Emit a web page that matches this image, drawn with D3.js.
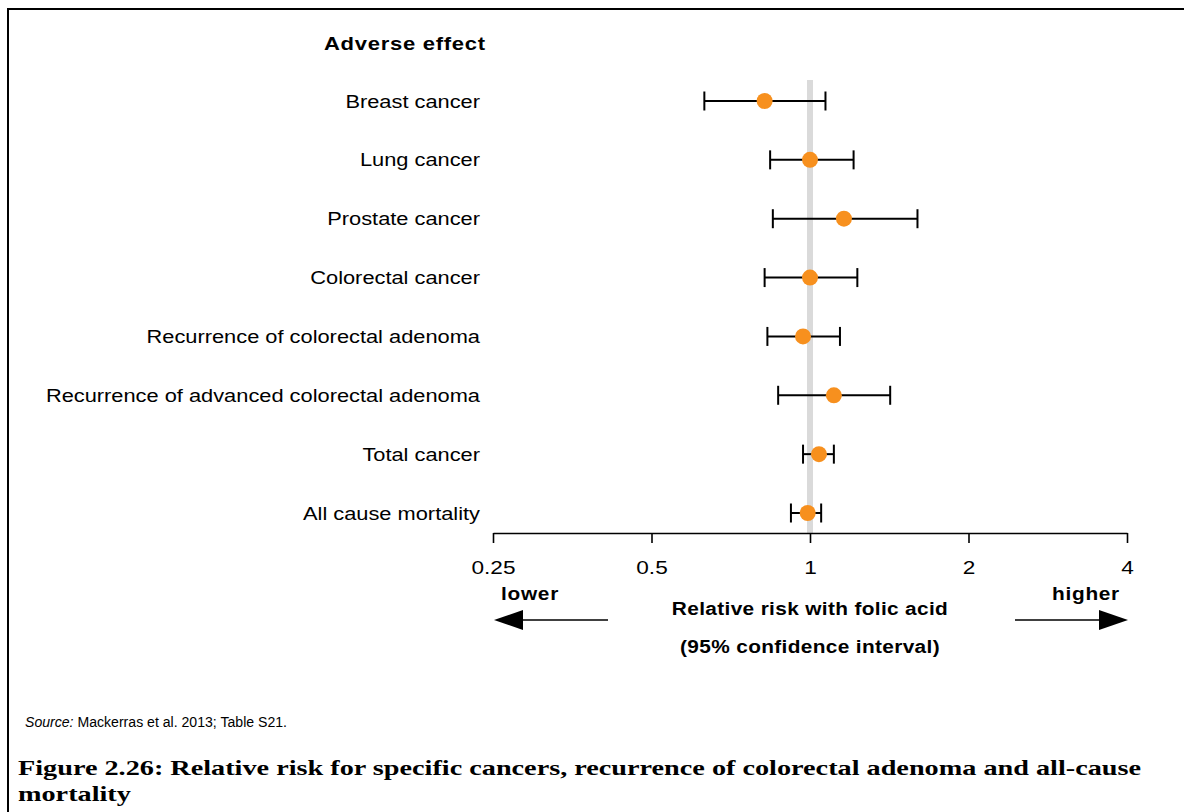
<!DOCTYPE html>
<html>
<head>
<meta charset="utf-8">
<script src="https://cdn.jsdelivr.net/npm/d3@7"></script>
<style>
  html, body { margin: 0; padding: 0; background: #fff; }
  svg { display: block; }
  text { fill: #000; }
</style>
</head>
<body>
<svg id="chart" width="1184" height="812"></svg>
<script>
// ---- data ----
const categories = [
  "Breast cancer",
  "Lung cancer",
  "Prostate cancer",
  "Colorectal cancer",
  "Recurrence of colorectal adenoma",
  "Recurrence of advanced colorectal adenoma",
  "Total cancer",
  "All cause mortality"
];
const estimates = [0.82, 1.00, 1.16, 1.00, 0.97, 1.11, 1.04, 0.99];
const lowerCI   = [0.63, 0.84, 0.85, 0.82, 0.83, 0.87, 0.97, 0.92];
const upperCI   = [1.07, 1.21, 1.60, 1.23, 1.14, 1.42, 1.11, 1.05];
const tickValues = [0.25, 0.5, 1, 2, 4];
const tickLabels = ["0.25", "0.5", "1", "2", "4"];

const SANS = "'Liberation Sans', Arial, sans-serif";
const SERIF = "'Liberation Serif', 'DejaVu Serif', serif";
const STRETCH = 1.19;
const svg = d3.select("#chart");

// frame
svg.append("rect").attr("x", 8).attr("y", 9).attr("width", 1300).attr("height", 1000)
  .attr("fill", "none").attr("stroke", "#000").attr("stroke-width", 2);

const x = d3.scaleLog().base(2).domain([0.25, 4]).range([493, 1127]);
const y = d3.scalePoint().domain(categories).range([101, 513]);
const axisY = 533;

// reference line at RR = 1
svg.append("rect")
  .attr("x", x(1) - 3).attr("width", 6)
  .attr("y", 80).attr("height", axisY - 80)
  .attr("fill", "#dadada");

// axis
const axis = svg.append("g").attr("transform", `translate(0,${axisY})`)
  .call(d3.axisBottom(x).tickValues(tickValues).tickSize(10).tickSizeOuter(0)
    .tickFormat((d, i) => tickLabels[i]));
axis.select(".domain").attr("stroke", "#000").attr("stroke-width", 1.6);
axis.selectAll(".tick line").attr("stroke", "#000").attr("stroke-width", 1.6);
axis.selectAll(".tick text")
  .attr("y", 41).attr("dy", null)
  .attr("font-size", 19).attr("font-family", null)
  .style("font-family", SANS)
  .attr("fill", "#000")
  .attr("transform", `scale(${STRETCH},1)`);

// category labels
const labelX = 480;
svg.append("text")
  .attr("transform", `translate(324,50) scale(${STRETCH},1)`)
  .style("font-family", SANS)
  .attr("font-size", 18.5).attr("font-weight", "bold").attr("letter-spacing", 0.6)
  .text("Adverse effect");

svg.selectAll("text.cat").data(categories).join("text")
  .attr("class", "cat")
  .attr("transform", d => `translate(${labelX},${y(d) + 6.5}) scale(1.18,1)`)
  .attr("text-anchor", "end")
  .style("font-family", SANS)
  .attr("font-size", 18.5)
  .text(d => d);

// error bars
const rows = categories.map((c, i) => ({ c, est: estimates[i], lo: lowerCI[i], hi: upperCI[i] }));
const g = svg.append("g");
g.selectAll("line.ci").data(rows).join("line").attr("class", "ci")
  .attr("x1", d => x(d.lo)).attr("x2", d => x(d.hi))
  .attr("y1", d => y(d.c)).attr("y2", d => y(d.c))
  .attr("stroke", "#000").attr("stroke-width", 2);
g.selectAll("line.capl").data(rows).join("line").attr("class", "capl")
  .attr("x1", d => x(d.lo)).attr("x2", d => x(d.lo))
  .attr("y1", d => y(d.c) - 9.5).attr("y2", d => y(d.c) + 9.5)
  .attr("stroke", "#000").attr("stroke-width", 2);
g.selectAll("line.caph").data(rows).join("line").attr("class", "caph")
  .attr("x1", d => x(d.hi)).attr("x2", d => x(d.hi))
  .attr("y1", d => y(d.c) - 9.5).attr("y2", d => y(d.c) + 9.5)
  .attr("stroke", "#000").attr("stroke-width", 2);
g.selectAll("circle").data(rows).join("circle")
  .attr("cx", d => x(d.est)).attr("cy", d => y(d.c)).attr("r", 8)
  .attr("fill", "#f7901e");

// axis titles
const mid = x(1);
function boldLabel(tx, ty, txt, ls) {
  svg.append("text").attr("transform", `translate(${tx},${ty}) scale(${STRETCH},1)`)
    .attr("text-anchor", "middle").attr("font-size", 17.5).attr("font-weight", "bold")
    .style("font-family", SANS)
    .attr("letter-spacing", ls)
    .text(txt);
}
boldLabel(mid, 615, "Relative risk with folic acid", 0.3);
boldLabel(mid, 653, "(95% confidence interval)", 0.3);
boldLabel(530, 600, "lower", 0.6);
boldLabel(1086, 600, "higher", 0.6);

// arrows
const [x0, x1] = x.range();
const ay = 620;
svg.append("line").attr("x1", x0 + 28).attr("x2", x0 + 115).attr("y1", ay).attr("y2", ay)
  .attr("stroke", "#000").attr("stroke-width", 1.6);
svg.append("path").attr("d", `M${x0 + 1},${ay} L${x0 + 30},${ay - 10} L${x0 + 30},${ay + 10} Z`).attr("fill", "#000");
svg.append("line").attr("x1", x1 - 112).attr("x2", x1 - 25).attr("y1", ay).attr("y2", ay)
  .attr("stroke", "#000").attr("stroke-width", 1.6);
svg.append("path").attr("d", `M${x1 + 1},${ay} L${x1 - 28},${ay - 10} L${x1 - 28},${ay + 10} Z`).attr("fill", "#000");

// source
const src = svg.append("text").attr("x", 25).attr("y", 727).attr("font-size", 14)
  .style("font-family", SANS);
src.append("tspan").attr("font-style", "italic").text("Source:");
src.append("tspan").text(" Mackerras et al. 2013; Table S21.");
src.attr("textLength", 262).attr("lengthAdjust", "spacingAndGlyphs");

// figure title
const t1 = svg.append("text").attr("x", 18).attr("y", 775)
  .style("font-family", SERIF)
  .attr("font-weight", "bold").attr("font-size", 22)
  .text("Figure 2.26: Relative risk for specific cancers, recurrence of colorectal adenoma and all-cause");
const t2 = svg.append("text").attr("x", 18).attr("y", 801)
  .style("font-family", SERIF)
  .attr("font-weight", "bold").attr("font-size", 22)
  .text("mortality");
const w = t1.node().getComputedTextLength();
const target = 1123;
const k = target / w;
t1.attr("textLength", target).attr("lengthAdjust", "spacingAndGlyphs");
t2.attr("textLength", t2.node().getComputedTextLength() * k).attr("lengthAdjust", "spacingAndGlyphs");
</script>
</body>
</html>
